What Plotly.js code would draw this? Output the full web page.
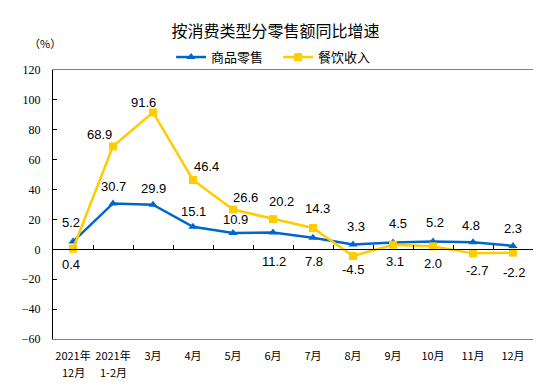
<!DOCTYPE html>
<html>
<head>
<meta charset="utf-8">
<script src="https://cdn.plot.ly/plotly-3.0.1.min.js"></script>
<style>html,body{margin:0;padding:0;background:#fff;}#chart{width:551px;height:387px;}</style>
</head>
<body>
<div id="chart"></div>
<script>
const tickLine1 = ["2021年", "2021年", "3月", "4月", "5月", "6月", "7月", "8月", "9月", "10月", "11月", "12月"];
const tickLine2 = ["12月", "1-2月", "", "", "", "", "", "", "", "", "", ""];
const retailGoods = [5.2, 30.7, 29.9, 15.1, 10.9, 11.2, 7.8, 3.3, 4.5, 5.2, 4.8, 2.3];
const catering = [0.4, 68.9, 91.6, 46.4, 26.6, 20.2, 14.3, -4.5, 3.1, 2.0, -2.7, -2.2];
const seriesNames = ["商品零售", "餐饮收入"];
const yTicks = [-60, -40, -20, 0, 20, 40, 60, 80, 100, 120];

// label offsets in pixels (dx, dy downwards)
const goodsLabelOffset = [[-2,-19],[0,-17],[0,-16],[0,-15],[2,-14],[1,29],[1,24],[3,-18],[5,-19],[2,-19],[-2,-17],[0,-17]];
const cateringLabelOffset = [[-2,16],[-14,-12],[-10,-10],[13,-13],[12,-12],[8,-18],[4,-19],[0,13],[2,17],[0,17],[4,17],[1,20]];

const xIdx = tickLine1.map((c, i) => i);
const xMin = -0.5, xMax = tickLine1.length - 0.5;
const yMin = yTicks[0], yMax = yTicks[yTicks.length - 1];
const boundaries = xIdx.slice(0, -1).map(i => i + 0.5);
const blue = "#0066CC", yellow = "#FFCC00";

const layout = {
  width: 551, height: 387,
  margin: {l: 53, r: 18, t: 70, b: 48},
  paper_bgcolor: "#fff", plot_bgcolor: "#fff",
  title: {text: "按消费类型分零售额同比增速", x: 0.5, xanchor: "center", y: 0.92, yanchor: "middle",
    font: {family: "Noto Sans CJK SC, sans-serif", size: 16, color: "#000"}},
  showlegend: true,
  legend: {orientation: "h", x: 0.246, xanchor: "left", y: 1.048, yanchor: "middle",
    font: {family: "Noto Sans CJK SC, sans-serif", size: 13, color: "#000"},
    bgcolor: "rgba(0,0,0,0)", itemwidth: 30, entrywidth: 62, entrywidthmode: "pixels", tracegroupgap: 0},
  xaxis: {range: [xMin, xMax], anchor: "y", side: "bottom", showline: true, linecolor: "#808080", linewidth: 1, mirror: true,
    tickmode: "array", tickvals: xIdx, ticktext: tickLine1, ticks: "outside", ticklen: 7, tickcolor: "rgba(0,0,0,0)",
    showgrid: false, zeroline: false, tickfont: {family: "Noto Sans CJK SC, sans-serif", size: 11, color: "#000"}, fixedrange: true},
  xaxis2: {range: [xMin, xMax], overlaying: "x", anchor: "free", position: (0 - yMin) / (yMax - yMin),
    showline: true, linecolor: "#000", linewidth: 1, tickmode: "array", tickvals: boundaries, showticklabels: false,
    ticks: "inside", ticklen: 4, tickcolor: "#000", showgrid: false, zeroline: false, fixedrange: true},
  yaxis: {range: [yMin, yMax], tickmode: "array", tickvals: yTicks, showline: true, linecolor: "#000", linewidth: 1,
    ticks: "inside", ticklen: 4, tickcolor: "#000", showgrid: false, zeroline: false, fixedrange: true,
    ticklabelstandoff: 9,
    tickfont: {family: "Liberation Serif, Times New Roman, serif", size: 12, color: "#000"}},
  annotations: []
};

const traces = [
  {x: xIdx, y: retailGoods, name: seriesNames[0], type: "scatter", mode: "lines+markers", xaxis: "x", yaxis: "y",
   line: {color: blue, width: 2.5}, marker: {symbol: "triangle-up", size: 8, color: blue}},
  {x: xIdx, y: catering, name: seriesNames[1], type: "scatter", mode: "lines+markers", xaxis: "x2", yaxis: "y",
   line: {color: yellow, width: 2.5}, marker: {symbol: "square", size: 8, color: yellow}}
];

const labelFont = {family: "Liberation Sans, Arial, sans-serif", size: 13, color: "#000"};
const catFont = {family: "Noto Sans CJK SC, sans-serif", size: 11, color: "#000"};
const annotations = layout.annotations;
retailGoods.forEach((v, i) => annotations.push({x: i, y: v, xref: "x", yref: "y", text: v.toFixed(1),
  showarrow: false, xshift: goodsLabelOffset[i][0], yshift: -goodsLabelOffset[i][1], font: labelFont}));
catering.forEach((v, i) => annotations.push({x: i, y: v, xref: "x", yref: "y", text: v.toFixed(1),
  showarrow: false, xshift: cateringLabelOffset[i][0], yshift: -cateringLabelOffset[i][1], font: labelFont}));
tickLine2.forEach((t, i) => { if (t) annotations.push({x: i, y: 0, xref: "x", yref: "paper", yanchor: "middle",
  yshift: -33, text: t, showarrow: false, font: catFont}); });
annotations.push({xref: "paper", yref: "paper", x: -0.017, y: 1.111, xshift: -18, yshift: 7, text: "（%）", showarrow: false,
  font: {family: "Noto Sans CJK SC, sans-serif", size: 11, color: "#000"}});

Plotly.newPlot("chart", traces, layout, {displayModeBar: false});
</script>
</body>
</html>
